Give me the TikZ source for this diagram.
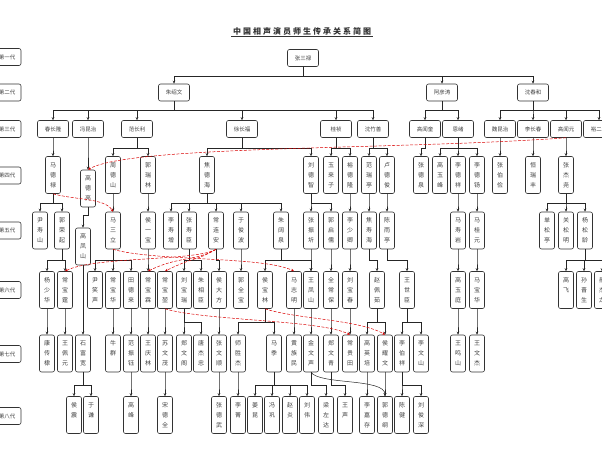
\documentclass[tikz,border=0pt]{standalone}
\usepackage{fontspec}
\newfontfamily\cjk{Noto Sans CJK SC}
\usetikzlibrary{arrows.meta}

\tikzset{
  hbox/.style={draw=black!80, line width=0.6pt, rounded corners=2pt, minimum width=31pt, minimum height=17pt, inner sep=1pt, font=\cjk\fontsize{5.5}{6}\selectfont, text=black!75},
  vbox/.style={draw=black!80, line width=0.6pt, rounded corners=2pt, minimum width=15pt, minimum height=37pt, inner sep=1pt, align=center, font=\cjk\fontsize{6}{10}\selectfont, text=black!75},
  genbox/.style={hbox, minimum width=28pt},
  lnk/.style={->, draw=black!85, line width=0.5pt},
  fam/.style={->, draw=red!85!black, dash pattern=on 3pt off 1.5pt, line width=0.5pt},
}

\begin{document}
\begin{tikzpicture}[x=1pt, y=-1pt, >={Stealth[length=3pt,width=2.6pt]}]
\useasboundingbox (0,0) rectangle (602,452);

% title
\node[inner sep=1.5pt, text=black!80, font={\cjk\bfseries\fontsize{8}{10}\selectfont\addfontfeatures{LetterSpace=25}}] (title) at (302,31) {中国相声演员师生传承关系简图};
\draw[black!80, line width=0.6pt] (title.south west) -- (title.south east);

% generations
\foreach \txt/\y [count=\i] in {第一代/57, 第二代/92.5, 第三代/129, 第四代/175.5, 第五代/230.5, 第六代/290, 第七代/354, 第八代/416}
  \node[genbox] (gen\i) at (7,\y) {\txt};

% first to third generation
\node[hbox] (zsl) at (303,58) {张三禄};
\foreach \n/\x/\txt in {zsw/174/朱绍文, ayt/442/阿彦涛, sch/533/沈春和}
  \node[hbox] (\n) at (\x,92.5) {\txt};
\foreach \n/\x/\txt in {ccl/53/春长隆, fkz/88/冯昆治, fcl/137/范长利, xcf/242/徐长福, gz/336/桂祯, szs/373/沈竹善, gwk/425/高闻奎, ex/458/恩绪, wkz/500/魏昆治, lcc/533/李长春, gwy/566/高闻元, ye/599/裕二俊}
  \node[hbox] (\n) at (\x,129) {\txt};

% fourth generation
\foreach \n/\x/\txt in {mdl/53/马\\德\\禄, zds/113/周\\德\\山, grl/148/郭\\瑞\\林, jdh/207/焦\\德\\海, ldz/311/刘\\德\\智, ylz/331/玉\\来\\子, ydl/350/裕\\德\\隆, frt/369/范\\瑞\\亭, ldj/387/卢\\德\\俊, zdq/421/张\\德\\泉, gyf/440/高\\玉\\峰, ldx/458/李\\德\\祥, ldy/477/李\\德\\钖, zbj/500/张\\伯\\俭, hrf/533/恒\\瑞\\丰, zjy/566/张\\杰\\尧}
  \node[vbox] (\n) at (\x,175) {\txt};
\node[vbox] (gdl) at (88,188.5) {高\\德\\亮};

% fifth generation
\foreach \n/\x/\txt in {yss/40/尹\\寿\\山, grq/62/郭\\荣\\起, msl/113/马\\三\\立, hyb/148/侯\\一\\宝, lsz/171/李\\寿\\增, zsc/189/张\\寿\\臣, cla/216/常\\连\\安, yjb/241/于\\俊\\波, zkq/281/朱\\阔\\泉, zzq/311/张\\振\\圻, gqr/331/郭\\启\\儒, lsq/350/李\\少\\卿, jsh/369/焦\\寿\\海, cyt/387/陈\\雨\\亭, msy/458/马\\寿\\岩, mgy/477/马\\桂\\元, sst/547/单\\松\\亭, gsm/566/关\\松\\明, ysl/585/杨\\松\\龄}
  \node[vbox] (\n) at (\x,230.5) {\txt};
\node[vbox] (gfs) at (83,246.5) {高\\凤\\山};

% sixth generation
\foreach \n/\x/\txt in {ysh/47/杨\\少\\华, cbt/65/常\\宝\\霆, yxs/95/尹\\笑\\声, cbh/113/常\\宝\\华, tdl/131/田\\德\\来, cbl/148/常\\宝\\霖, cbk/165/常\\宝\\堃, lbr/184/刘\\宝\\瑞, zxc/201/朱\\相\\臣, hdf/219/侯\\大\\方, gqb/241/郭\\全\\宝, hbl/265/侯\\宝\\林, mzm/294/马\\志\\明, wfs/311/王\\凤\\山, qcb/331/全\\常\\保, lbc/350/刘\\宝\\春, zpr/377/赵\\佩\\茹, wsc/407/王\\世\\臣, gyt/458/高\\玉\\庭, mbh/477/马\\宝\\华, gf/566/高\\飞\\\phantom{飞}, sjs/584/孙\\晋\\生, hjl/602/郝\\杰\\龙}
  \node[vbox] (\n) at (\x,290) {\txt};

% seventh generation
\foreach \n/\x/\txt in {kcd/47/康\\传\\棣, wpy/65/王\\佩\\元, sfk/83/石\\富\\宽, nq/113/牛\\群\\\phantom{群}, fzy/131/范\\振\\钰, wql/148/王\\庆\\林, swm/165/苏\\文\\茂, zwg/184/郑\\文\\阁, tjz/201/唐\\杰\\忠, zws/219/张\\文\\顺, ssj/238/师\\胜\\杰, mj/274/马\\季\\\phantom{季}, hzm/294/黄\\族\\民, jws/311/金\\文\\声, zwq/331/郑\\文\\青, cgt/350/常\\贵\\田, gyp/367/高\\英\\培, hyw/385/侯\\耀\\文, lbx/402/李\\伯\\祥, lws/421/李\\文\\山, wms/458/王\\鸣\\山, wwj/477/王\\文\\杰}
  \node[vbox] (\n) at (\x,353.5) {\txt};

% eighth generation
\foreach \n/\x/\txt in {hz/74/侯\\震\\\phantom{震}, yq/91/于\\谦\\\phantom{谦}, gfe/131/高\\峰\\\phantom{峰}, sdq/165/宋\\德\\全, zdw/219/张\\德\\武, lj/238/李\\菁\\\phantom{菁}, jk/255/姜\\昆\\\phantom{昆}, fg/272/冯\\巩\\\phantom{巩}, zy/290/赵\\炎\\\phantom{炎}, lw/307/刘\\伟\\\phantom{伟}, lzd/326/梁\\左\\达, wsh/345/王\\声\\\phantom{声}, ljc/367/李\\嘉\\存, gdg/385/郭\\德\\纲, cj/402/陈\\健\\\phantom{健}, ljs/421/刘\\俊\\深}
  \node[vbox] (\n) at (\x,415) {\txt};

% teacher to student
\foreach \a/\b in {zsl/zsw, zsl/ayt, zsl/sch, zsw/ccl, zsw/fkz, zsw/fcl, zsw/xcf, zsw/gz, zsw/szs, ayt/gwk, ayt/ex, sch/wkz, sch/lcc, sch/gwy, sch/ye}
  \draw[lnk] (\a.south) -- ++(0,9) -| (\b.north);
\foreach \a/\b in {ccl/mdl, fkz/gdl, fcl/zds, fcl/grl, xcf/jdh, xcf/ldz, gz/ylz, gz/ydl, szs/frt, szs/ldj, gwk/zdq, ex/gyf, ex/ldx, ex/ldy, wkz/zbj, lcc/hrf, gwy/zjy}
  \draw[lnk] (\a.south) -- ++(0,10) -| (\b.north);
\foreach \a/\b in {mdl/yss, mdl/grq, zds/msl, grl/hyb, jdh/lsz, jdh/zsc, jdh/cla, jdh/yjb, jdh/zkq, ldz/zzq, ldz/gqr, ydl/lsq, frt/jsh, ldj/cyt, ldx/msy, ldy/mgy, zjy/sst, zjy/gsm, zjy/ysl}
  \draw[lnk] (\a.south) -- ++(0,9.5) -| (\b.north);
\draw[lnk] (gdl.south) -- ++(0,8) -| (gfs.north);
\foreach \a/\b in {grq/ysh, grq/cbt, msl/yxs, msl/cbh, msl/tdl, hyb/cbl, zsc/lbr, zsc/zxc, cla/hdf, yjb/gqb, zkq/hbl, zkq/wfs, zzq/wfs, gqr/qcb, lsq/lbc, jsh/zpr, cyt/wsc, msy/gyt, mgy/mbh, ysl/gf, ysl/sjs, ysl/hjl}
  \draw[lnk] (\a.south) -- ++(0,11) -| (\b.north);
\draw[lnk] (gfs.south) -- (sfk.north);
\foreach \a/\b in {ysh/kcd, cbt/wpy, cbh/nq, tdl/fzy, cbl/wql, cbk/swm, lbr/zwg, lbr/tjz, hdf/zws, hbl/ssj, hbl/mj, mzm/hzm, wfs/jws, qcb/zwq, lbc/cgt, zpr/gyp, zpr/hyw, wsc/lbx, wsc/lws, gyt/wms, mbh/wwj}
  \draw[lnk] (\a.south) -- ++(0,13) -| (\b.north);
\foreach \a/\b in {sfk/hz, sfk/yq, fzy/gfe, swm/sdq, zws/zdw, ssj/lj, mj/jk, mj/fg, mj/zy, mj/lw, jws/lzd, zwq/wsh, gyp/ljc, hyw/gdg, lbx/cj, lbx/ljs}
  \draw[lnk] (\a.south) -- ++(0,13) -| (\b.north);
\draw[lnk] (jws.south) .. controls (320,385) and (385,378) .. (gdg.north);

% family
\draw[fam] (gwy.south) .. controls (400,150) and (130,145) .. (gdl.north);
\draw[fam] (mdl.south) .. controls (75,200) and (105,198) .. (msl.north);
\foreach \c in {cbt, cbl, cbk}
  \draw[fam] (cla.south) .. controls +(-20,12) and +(30,-15) .. (\c.north);
\draw[fam] (msl.south) .. controls +(40,12) and +(-30,-15) .. (mzm.north);
\draw[fam] (cbk.south) .. controls +(40,12) and +(-30,-15) .. (cgt.north);
\draw[fam] (hbl.south) .. controls +(30,10) and +(-25,-15) .. (hyw.north);
\end{tikzpicture}
\end{document}
